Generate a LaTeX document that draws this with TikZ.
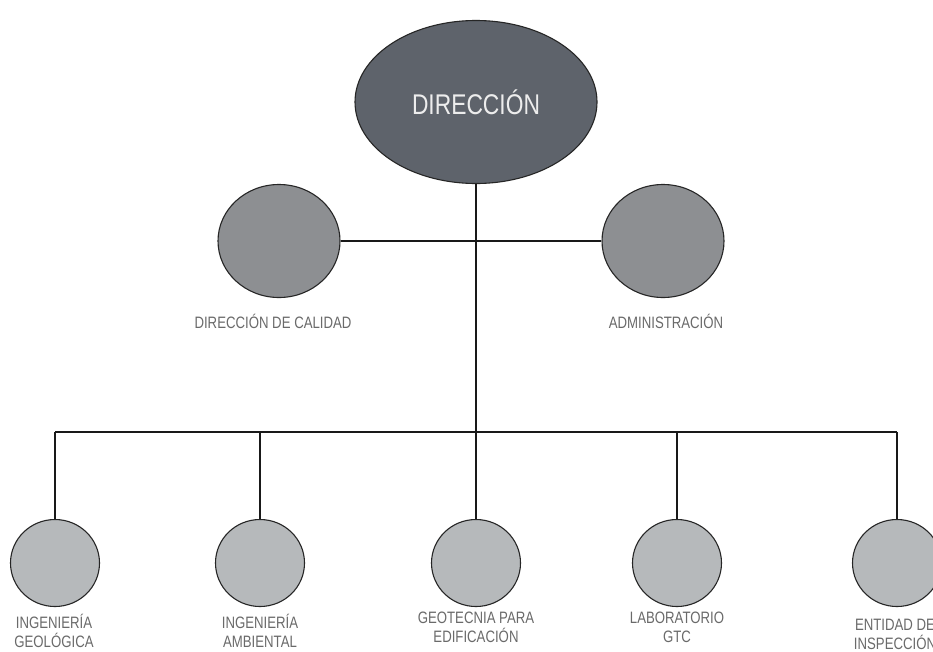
\documentclass[tikz,border=0pt]{standalone}
\usepackage{fontspec}
\setmainfont{Liberation Sans}[FakeStretch=0.8]
\usetikzlibrary{shapes.geometric}
\definecolor{topfill}{HTML}{5E636B}
\definecolor{midfill}{HTML}{8D8F92}
\definecolor{lowfill}{HTML}{B6B9BB}
\definecolor{labelgray}{HTML}{6A6A6A}
\definecolor{topText}{HTML}{EDEDED}
\tikzset{
  unit/.style={ellipse, draw=black!85, line width=1.1pt, inner sep=0pt},
  topunit/.style={unit, fill=topfill, minimum width=242pt, minimum height=163pt,
    text=topText, font=\fontsize{28.5}{30}\selectfont},
  midunit/.style={unit, fill=midfill, minimum width=122pt, minimum height=113pt},
  lowunit/.style={unit, fill=lowfill, minimum width=89pt, minimum height=87pt},
  lbl/.style={text=labelgray, align=center, font=\fontsize{16.5}{18.5}\selectfont, inner sep=0pt, anchor=north},
  conn/.style={draw=black!90, line width=1.3pt}
}
\begin{document}
\begin{tikzpicture}[x=1pt,y=-1pt]
\useasboundingbox[fill=white] (0,0) rectangle (933,651);
\coordinate (bar) at (476,432);
\node[topunit] (dir) at (476,102) {DIRECCIÓN};
\node[midunit] (cal) at (279,241) {};
\node[midunit] (adm) at (663,241) {};
\node[lowunit] (geo) at (55,563) {};
\node[lowunit] (amb) at (260,563) {};
\node[lowunit] (edi) at (476,563) {};
\node[lowunit] (lab) at (677,563) {};
\node[lowunit] (ins) at (897,563) {};
\draw[conn] (dir.south) -- (bar);
\draw[conn] (cal.east) -- (adm.west);
\draw[conn] (geo |- bar) -- (ins |- bar);
\foreach \n in {geo,amb,edi,lab,ins}{\draw[conn] (\n.north) -- (\n |- bar);}
\node[lbl] (lcal) at (273,314) {DIRECCIÓN DE CALIDAD};
\node[lbl] (ladm) at (666,314) {ADMINISTRACIÓN};
\node[lbl] (lgeo) at (54,614) {INGENIERÍA\\GEOLÓGICA};
\node[lbl] (lamb) at (260,614) {INGENIERÍA\\AMBIENTAL};
\node[lbl] (ledi) at (476,612) {GEOTECNIA PARA\\EDIFICACIÓN};
\node[lbl] (llab) at (677,612) {LABORATORIO\\GTC};
\node[lbl] (lins) at (895,619) {ENTIDAD DE\\INSPECCIÓN};
\end{tikzpicture}
\end{document}
